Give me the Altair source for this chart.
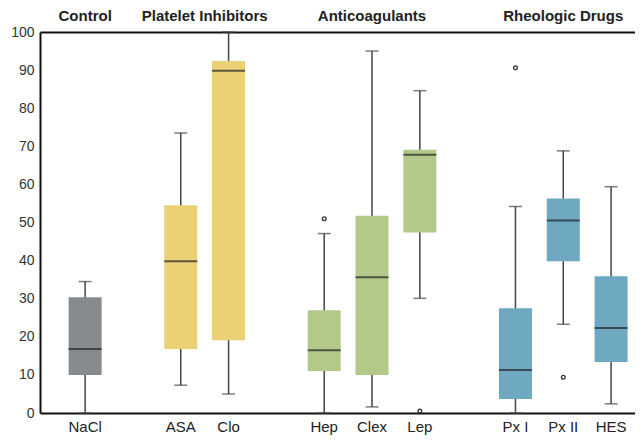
import altair as alt
import pandas as pd

drugs = ["NaCl", "ASA", "Clo", "Hep", "Clex", "Lep", "Px I", "Px II", "HES"]
groups = ["Control", "Platelet Inhibitors", "Platelet Inhibitors",
          "Anticoagulants", "Anticoagulants", "Anticoagulants",
          "Rheologic Drugs", "Rheologic Drugs", "Rheologic Drugs"]
lower = [0, 7.3, 5, 0, 1.6, 30.1, 0, 23.3, 2.4]
q1 = [10, 16.8, 19.1, 11, 10, 47.4, 3.7, 39.8, 13.4]
median = [16.8, 39.8, 89.8, 16.5, 35.6, 67.8, 11.3, 50.5, 22.3]
q3 = [30.4, 54.5, 92.4, 27, 51.8, 69.1, 27.5, 56.3, 35.9]
upper = [34.5, 73.5, 100, 47.1, 95, 84.6, 54.2, 68.8, 59.4]

outlier_drugs = ["Hep", "Lep", "Px I", "Px II"]
outlier_values = [51, 0.5, 90.6, 9.4]

group_titles = ["Control", "Anticoagulants", "Rheologic Drugs"]
group_anchor = ["NaCl", "Clex", "Px II"]
split_title = ["Platelet Inhibitors"]
split_anchor = ["ASA"]

order = ["NaCl", "gap1", "ASA", "Clo", "gap2", "Hep", "Clex", "Lep", "gap3", "Px I", "Px II", "HES"]
colors = {"Control": "#888b8d", "Platelet Inhibitors": "#ebd075",
          "Anticoagulants": "#b3c98a", "Rheologic Drugs": "#6ea8c1"}

df = pd.DataFrame({"drug": drugs, "group": groups, "lower": lower, "q1": q1,
                   "median": median, "q3": q3, "upper": upper})
out_df = pd.DataFrame({"drug": outlier_drugs, "value": outlier_values})
title_df = pd.DataFrame({"title": group_titles, "anchor": group_anchor})
split_df = pd.DataFrame({"title": split_title, "anchor": split_anchor})

xscale = alt.Scale(domain=order, paddingInner=0, paddingOuter=0.222, align=1)
yscale = alt.Scale(domain=[0, 100], nice=False)

x_bottom = alt.X("drug:N", scale=xscale, sort=order,
                 axis=alt.Axis(title=None, labelAngle=0, ticks=False, labelPadding=6,
                               labelFontSize=15, labelColor="#222", labelFont="Liberation Sans",
                               domainColor="#111", domainWidth=2,
                               labelExpr="indexof(datum.label, 'gap') == 0 ? '' : datum.label"))
y_ax = alt.Axis(title=None, values=list(range(0, 101, 10)), ticks=False,
                grid=False, labelPadding=6, labelFontSize=14, labelColor="#333",
                labelFont="Liberation Sans", domainColor="#111", domainWidth=2)


def yenc(field):
    return alt.Y(field, scale=yscale, axis=y_ax)


whisker = alt.Chart(df).mark_rule(color="#444", strokeWidth=1.5).encode(
    x=x_bottom, y=yenc("lower:Q"), y2="upper:Q")
cap_lo = alt.Chart(df).mark_tick(color="#444", size=13, thickness=1.5, orient="horizontal").encode(
    x=alt.X("drug:N", scale=xscale, axis=None), y=yenc("lower:Q"))
cap_hi = alt.Chart(df).mark_tick(color="#444", size=13, thickness=1.5, orient="horizontal").encode(
    x=alt.X("drug:N", scale=xscale, axis=None), y=yenc("upper:Q"))
box = alt.Chart(df).mark_bar(size=33).encode(
    x=alt.X("drug:N", scale=xscale, axis=None), y=yenc("q1:Q"), y2="q3:Q",
    color=alt.Color("group:N", scale=alt.Scale(domain=list(colors.keys()),
                                               range=list(colors.values())), legend=None))
med = alt.Chart(df).mark_tick(color="#222", size=33, thickness=2, orient="horizontal").encode(
    x=alt.X("drug:N", scale=xscale, axis=None), y=yenc("median:Q"))
outl = alt.Chart(out_df).mark_point(shape="circle", filled=False, size=14, color="#333",
                                    strokeWidth=1.3, opacity=1).encode(
    x=alt.X("drug:N", scale=xscale, axis=None), y=yenc("value:Q"))

titles = alt.Chart(title_df).mark_text(fontSize=15, fontWeight="bold", font="Liberation Sans",
                                       color="#222", baseline="middle").encode(
    x=alt.X("anchor:N", scale=xscale,
            axis=alt.Axis(orient="top", labels=False, ticks=False, title=None,
                          domainColor="#111", domainWidth=2)),
    y=alt.value(-16), text="title:N")
split = alt.Chart(split_df).mark_text(fontSize=15, fontWeight="bold", font="Liberation Sans",
                                      color="#222", baseline="middle").encode(
    x=alt.X("anchor:N", scale=xscale, bandPosition=1, axis=None),
    y=alt.value(-16), text="title:N")

chart = alt.layer(whisker, cap_lo, cap_hi, box, med, outl, titles, split).resolve_axis(
    x="independent").properties(
    width=595, height=381,
    autosize=alt.AutoSizeParams(type="none"),
    padding={"left": 32, "top": 24, "right": 0, "bottom": 22},
).configure_view(stroke=None).configure(background="white")

chart.save("out.html", embed_options={"renderer": "svg", "actions": False})
